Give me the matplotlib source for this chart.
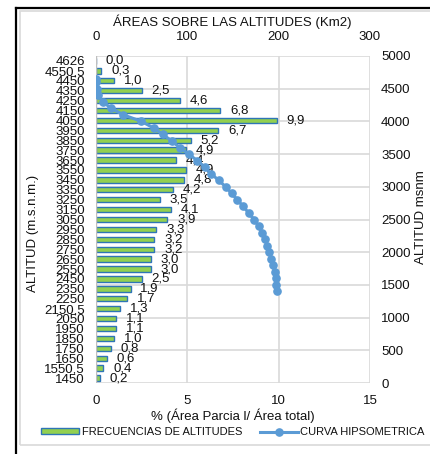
import matplotlib
matplotlib.use("Agg")
from matplotlib import pyplot as plt
from matplotlib.patches import Rectangle
from matplotlib.lines import Line2D

plt.rcParams['font.family'] = ['Liberation Sans', 'DejaVu Sans']

# altitude classes (midpoints), top to bottom as read in the chart
clases = ['4626', '4550,5', '4450', '4350', '4250', '4150', '4050', '3950', '3850',
          '3750', '3650', '3550', '3450', '3350', '3250', '3150', '3050', '2950',
          '2850', '2750', '2650', '2550', '2450', '2350', '2250', '2150,5', '2050',
          '1950', '1850', '1750', '1650', '1550,5', '1450']
# % of partial area / total area
porcentajes = [0.0, 0.3, 1.0, 2.5, 4.6, 6.8, 9.9, 6.7, 5.2, 4.9, 4.4, 4.9, 4.8,
               4.2, 3.5, 4.1, 3.9, 3.3, 3.2, 3.2, 3.0, 3.0, 2.5, 1.9, 1.7, 1.3,
               1.1, 1.1, 1.0, 0.8, 0.6, 0.4, 0.2]

# hypsometric curve: area above altitude (km2) vs altitude (msnm)
altitudes_curva = [4652, 4600, 4500, 4400, 4300, 4200, 4100, 4000, 3900, 3800,
                   3700, 3600, 3500, 3400, 3300, 3200, 3100, 3000, 2900, 2800,
                   2700, 2600, 2500, 2400, 2300, 2200, 2100, 2000, 1900, 1800,
                   1700, 1600, 1500, 1400]
areas_curva = [0.0, 0.0, 0.6, 2.6, 7.5, 16.6, 30.1, 49.7, 63.0, 73.3, 83.0, 91.7,
               101.4, 110.9, 119.2, 126.1, 134.2, 142.0, 148.5, 154.8, 161.2,
               167.1, 173.1, 178.0, 181.8, 185.1, 187.7, 189.9, 192.1, 194.0,
               195.6, 196.8, 197.6, 198.0]

W, H = 431, 454
TXT = '#111111'
GRID = '#d9d9d9'
VERDE = '#92d050'
AZUL_BORDE = '#2e75b6'
AZUL_CURVA = '#5b9bd5'
FS = 9.5


def fx(px):
    return px / W


def fy(py):
    return 1 - py / H


fig = plt.figure(figsize=(W / 100, H / 100), dpi=100)

# outer frame (black) and chart area border (light gray)
fig.patches.append(Rectangle((fx(20), fy(445)), fx(445) - fx(20), fy(11) - fy(445),
                             transform=fig.transFigure, fill=False,
                             edgecolor='#d9d9d9', linewidth=1.2))
fig.lines.append(Line2D([fx(16), fx(16)], [fy(8), 0], transform=fig.transFigure,
                        color='black', linewidth=1.6))
fig.lines.append(Line2D([fx(16), 1], [fy(8), fy(8)], transform=fig.transFigure,
                        color='black', linewidth=1.6))

rect = [fx(96), fy(383), fx(370) - fx(96), fy(56) - fy(383)]

# background axes: only gridlines
axg = fig.add_axes(rect)
axg.set_xlim(0, 15)
axg.set_ylim(0, 5000)
axg.set_xticks([0, 5, 10, 15])
axg.set_yticks(range(0, 5001, 500))
axg.grid(True, color=GRID, linewidth=1.2)
axg.tick_params(length=0, labelbottom=False, labelleft=False)
for s in axg.spines.values():
    s.set_visible(False)

# bars on primary axes (bottom x, left categories)
ax = fig.add_axes(rect)
ax.patch.set_alpha(0)
posiciones = list(range(len(clases)))[::-1]
barras = ax.barh(posiciones, porcentajes, height=0.55, color=VERDE,
                 edgecolor=AZUL_BORDE, linewidth=1.0,
                 label='FRECUENCIAS DE ALTITUDES')
ax.bar_label(barras, labels=[f'{v:.1f}'.replace('.', ',') for v in porcentajes],
             padding=7, fontsize=FS, color=TXT)
ax.set_xlim(0, 15)
ax.set_ylim(-0.5, len(clases) - 0.5)
ax.set_xticks([0, 5, 10, 15])
ax.set_yticks(posiciones)
ax.set_yticklabels(clases)
ax.tick_params(length=0, labelsize=FS, labelcolor=TXT)
ax.tick_params(axis='x', pad=9)
ax.tick_params(axis='y', pad=8)
for s in ax.spines.values():
    s.set_visible(False)
ax.axvline(0, color='#bfbfbf', linewidth=1.0)
ax.set_xlabel('% (Área Parcia l/ Área total)', fontsize=FS, color=TXT, labelpad=1)

# curve on secondary axes (top x, right y)
ax2 = fig.add_axes(rect)
ax2.patch.set_alpha(0)
ax2.plot(areas_curva, altitudes_curva, color=AZUL_CURVA, linewidth=2.2,
         marker='o', markersize=5.2, label='CURVA HIPSOMETRICA')
ax2.set_xlim(0, 300)
ax2.set_ylim(0, 5000)
ax2.set_xticks([0, 100, 200, 300])
ax2.set_yticks(range(0, 5001, 500))
ax2.xaxis.tick_top()
ax2.yaxis.tick_right()
ax2.tick_params(length=0, labelsize=FS, labelcolor=TXT)
ax2.tick_params(axis='x', pad=9)
ax2.tick_params(axis='y', pad=8)
for s in ax2.spines.values():
    s.set_visible(False)

fig.text(fx(232), fy(22), 'ÁREAS SOBRE LAS ALTITUDES (Km2)', fontsize=FS,
         color=TXT, ha='center', va='center')
fig.text(fx(33), fy(233), 'ALTITUD (m.s.n.m.)', fontsize=FS, color=TXT,
         ha='center', va='center', rotation=90)
fig.text(fx(421), fy(217), 'ALTITUD msnm', fontsize=FS, color=TXT,
         ha='center', va='center', rotation=90)

handles = [barras, ax2.get_lines()[0]]
fig.legend(handles, [h.get_label() for h in handles], loc='center',
           bbox_to_anchor=(fx(233), fy(432)), ncol=2, frameon=False,
           fontsize=8.0, handlelength=3.4, handleheight=0.45, columnspacing=1.6,
           handletextpad=0.25, labelcolor=TXT, borderpad=0, borderaxespad=0)

fig.savefig('out.png', dpi=100)
